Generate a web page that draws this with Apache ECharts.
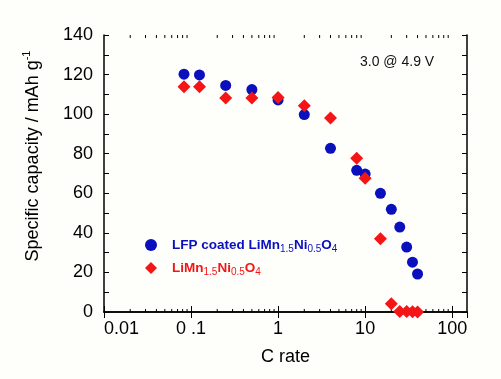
<!DOCTYPE html>
<html>
<head>
<meta charset="utf-8">
<script src="https://cdn.jsdelivr.net/npm/echarts@6/dist/echarts.min.js"></script>
<style>
  html, body { margin: 0; padding: 0; background: #fefefb; }
  #chart { width: 501px; height: 379px; }
</style>
</head>
<body>
<div id="chart"></div>
<script>
// C rate values (shared by both series)
var cRates = [0.083, 0.125, 0.25, 0.5, 1, 2, 4, 8, 10, 15, 20, 25, 30, 35, 40];
// LFP coated LiMn1.5Ni0.5O4 capacity
var coatedCap = [120.2, 119.8, 114.5, 112.4, 107.2, 99.8, 82.7, 71.6, 69.7, 60, 51.9, 42.9, 32.8, 25.2, 19.2];
// bare LiMn1.5Ni0.5O4 capacity
var bareCap = [113.8, 113.8, 108.2, 108.2, 108.4, 104.2, 98, 77.7, 67.6, 37, 4.2, 0.3, 0.3, 0.1, 0];
// tick labels
var xLabels = {'0.01': '0.01', '0.1': '0 .1', '1': '1', '10': '10', '100': '100'};
// log minor tick positions (2..9 of each decade)
var minorX = [0.02, 0.03, 0.04, 0.05, 0.06, 0.07, 0.08, 0.09,
  0.2, 0.3, 0.4, 0.5, 0.6, 0.7, 0.8, 0.9,
  2, 3, 4, 5, 6, 7, 8, 9,
  20, 30, 40, 50, 60, 70, 80, 90];

var blue = '#0a10bd';
var red = '#f41616';

function pairs(xs, ys) {
  var out = [];
  for (var i = 0; i < xs.length; i++) out.push([xs[i], ys[i]]);
  return out;
}

var myChart = echarts.init(document.getElementById('chart'));

var labelFont = 'Liberation Sans, Arial, sans-serif';

// short minor ticks on bottom and top edges
function renderMinor(params, api) {
  var bottom = api.coord([api.value(0), 0]);
  var top = api.coord([api.value(0), 140]);
  return {
    type: 'group',
    children: [
      { type: 'line', shape: { x1: bottom[0], y1: bottom[1], x2: bottom[0], y2: bottom[1] - 3 }, style: { stroke: '#000', lineWidth: 1 } },
      { type: 'line', shape: { x1: top[0], y1: top[1], x2: top[0], y2: top[1] + 3 }, style: { stroke: '#000', lineWidth: 1 } }
    ]
  };
}

var option = {
  backgroundColor: '#fefefb',
  animation: false,
  grid: { left: 104, right: 34, top: 35, bottom: 67 },
  legend: {
    orient: 'vertical',
    left: 140,
    top: 233,
    itemGap: 7,
    itemWidth: 12,
    itemHeight: 12,
    data: [
      { name: 'coated', icon: 'circle', textStyle: { color: blue } },
      { name: 'bare', icon: 'diamond', textStyle: { color: red } }
    ],
    formatter: function (name) {
      if (name === 'coated') {
        return '{m|LFP coated LiMn}{s|1.5}{m|Ni}{s|0.5}{m|O}{s|4}';
      }
      return '{m|LiMn}{s|1.5}{m|Ni}{s|0.5}{m|O}{s|4}';
    },
    textStyle: {
      padding: [0, 0, 0, 10],
      rich: {
        m: { fontSize: 13.5, fontWeight: 'bold', fontFamily: labelFont },
        s: { fontSize: 10, fontFamily: labelFont, padding: [8, 0, 0, 0] }
      }
    }
  },
  xAxis: [
    {
      type: 'log',
      min: 0.01,
      max: 148,
      logBase: 10,
      axisLine: { lineStyle: { color: '#000', width: 1.5 } },
      axisTick: { inside: true, length: 6, lineStyle: { color: '#000' } },
      splitLine: { show: false },
      axisLabel: {
        color: '#000',
        fontSize: 18,
        fontFamily: labelFont,
        margin: 8,
        showMaxLabel: false,
        alignMinLabel: 'left',
        formatter: function (v) { return xLabels[String(v)] || ''; }
      },
      name: 'C rate',
      nameLocation: 'middle',
      nameGap: 36,
      nameTextStyle: { color: '#000', fontSize: 18, fontFamily: labelFont }
    },
    {
      type: 'log',
      position: 'top',
      min: 0.01,
      max: 148,
      logBase: 10,
      axisLine: { lineStyle: { color: '#000', width: 1.5 } },
      axisTick: { inside: true, length: 6, lineStyle: { color: '#000' } },
      splitLine: { show: false },
      axisLabel: { show: false }
    }
  ],
  yAxis: [
    {
      type: 'value',
      min: 0,
      max: 140,
      interval: 20,
      axisLine: { show: true, lineStyle: { color: '#000', width: 1.5 } },
      axisTick: { show: true, inside: true, length: 5, lineStyle: { color: '#000' } },
      minorTick: { show: true, splitNumber: 2, length: 5, lineStyle: { color: '#000' } },
      splitLine: { show: false },
      axisLabel: { color: '#000', fontSize: 18, fontFamily: labelFont, margin: 11 }
    },
    {
      type: 'value',
      position: 'right',
      min: 0,
      max: 140,
      interval: 20,
      axisLine: { show: true, lineStyle: { color: '#000', width: 1.5 } },
      axisTick: { show: true, inside: true, length: 5, lineStyle: { color: '#000' } },
      minorTick: { show: true, splitNumber: 2, length: 5, lineStyle: { color: '#000' } },
      splitLine: { show: false },
      axisLabel: { show: false }
    }
  ],
  series: [
    {
      name: 'minorTicks',
      type: 'custom',
      renderItem: renderMinor,
      data: minorX.map(function (x) { return [x, 0]; }),
      silent: true,
      z: 1
    },
    {
      name: 'coated',
      type: 'scatter',
      symbol: 'circle',
      symbolSize: 11,
      itemStyle: { color: blue, opacity: 1 },
      data: pairs(cRates, coatedCap),
      z: 2
    },
    {
      name: 'bare',
      type: 'scatter',
      symbol: 'diamond',
      symbolSize: 13,
      itemStyle: { color: red, opacity: 1 },
      data: pairs(cRates, bareCap),
      z: 3
    }
  ],
  graphic: [
    {
      type: 'text',
      x: 33,
      y: 156,
      rotation: Math.PI / 2,
      style: {
        text: '{a|Specific capacity / mAh g}{b|-1}',
        align: 'center',
        verticalAlign: 'middle',
        rich: {
          a: { fontSize: 18, fontFamily: labelFont, fill: '#000' },
          b: { fontSize: 11, fontFamily: labelFont, fill: '#000', padding: [0, 0, 12, 0] }
        }
      }
    },
    {
      type: 'text',
      left: 360,
      top: 55,
      style: {
        text: '3.0 @ 4.9 V',
        fontSize: 14,
        fontFamily: labelFont,
        fill: '#111'
      }
    }
  ]
};

myChart.setOption(option);
</script>
</body>
</html>
